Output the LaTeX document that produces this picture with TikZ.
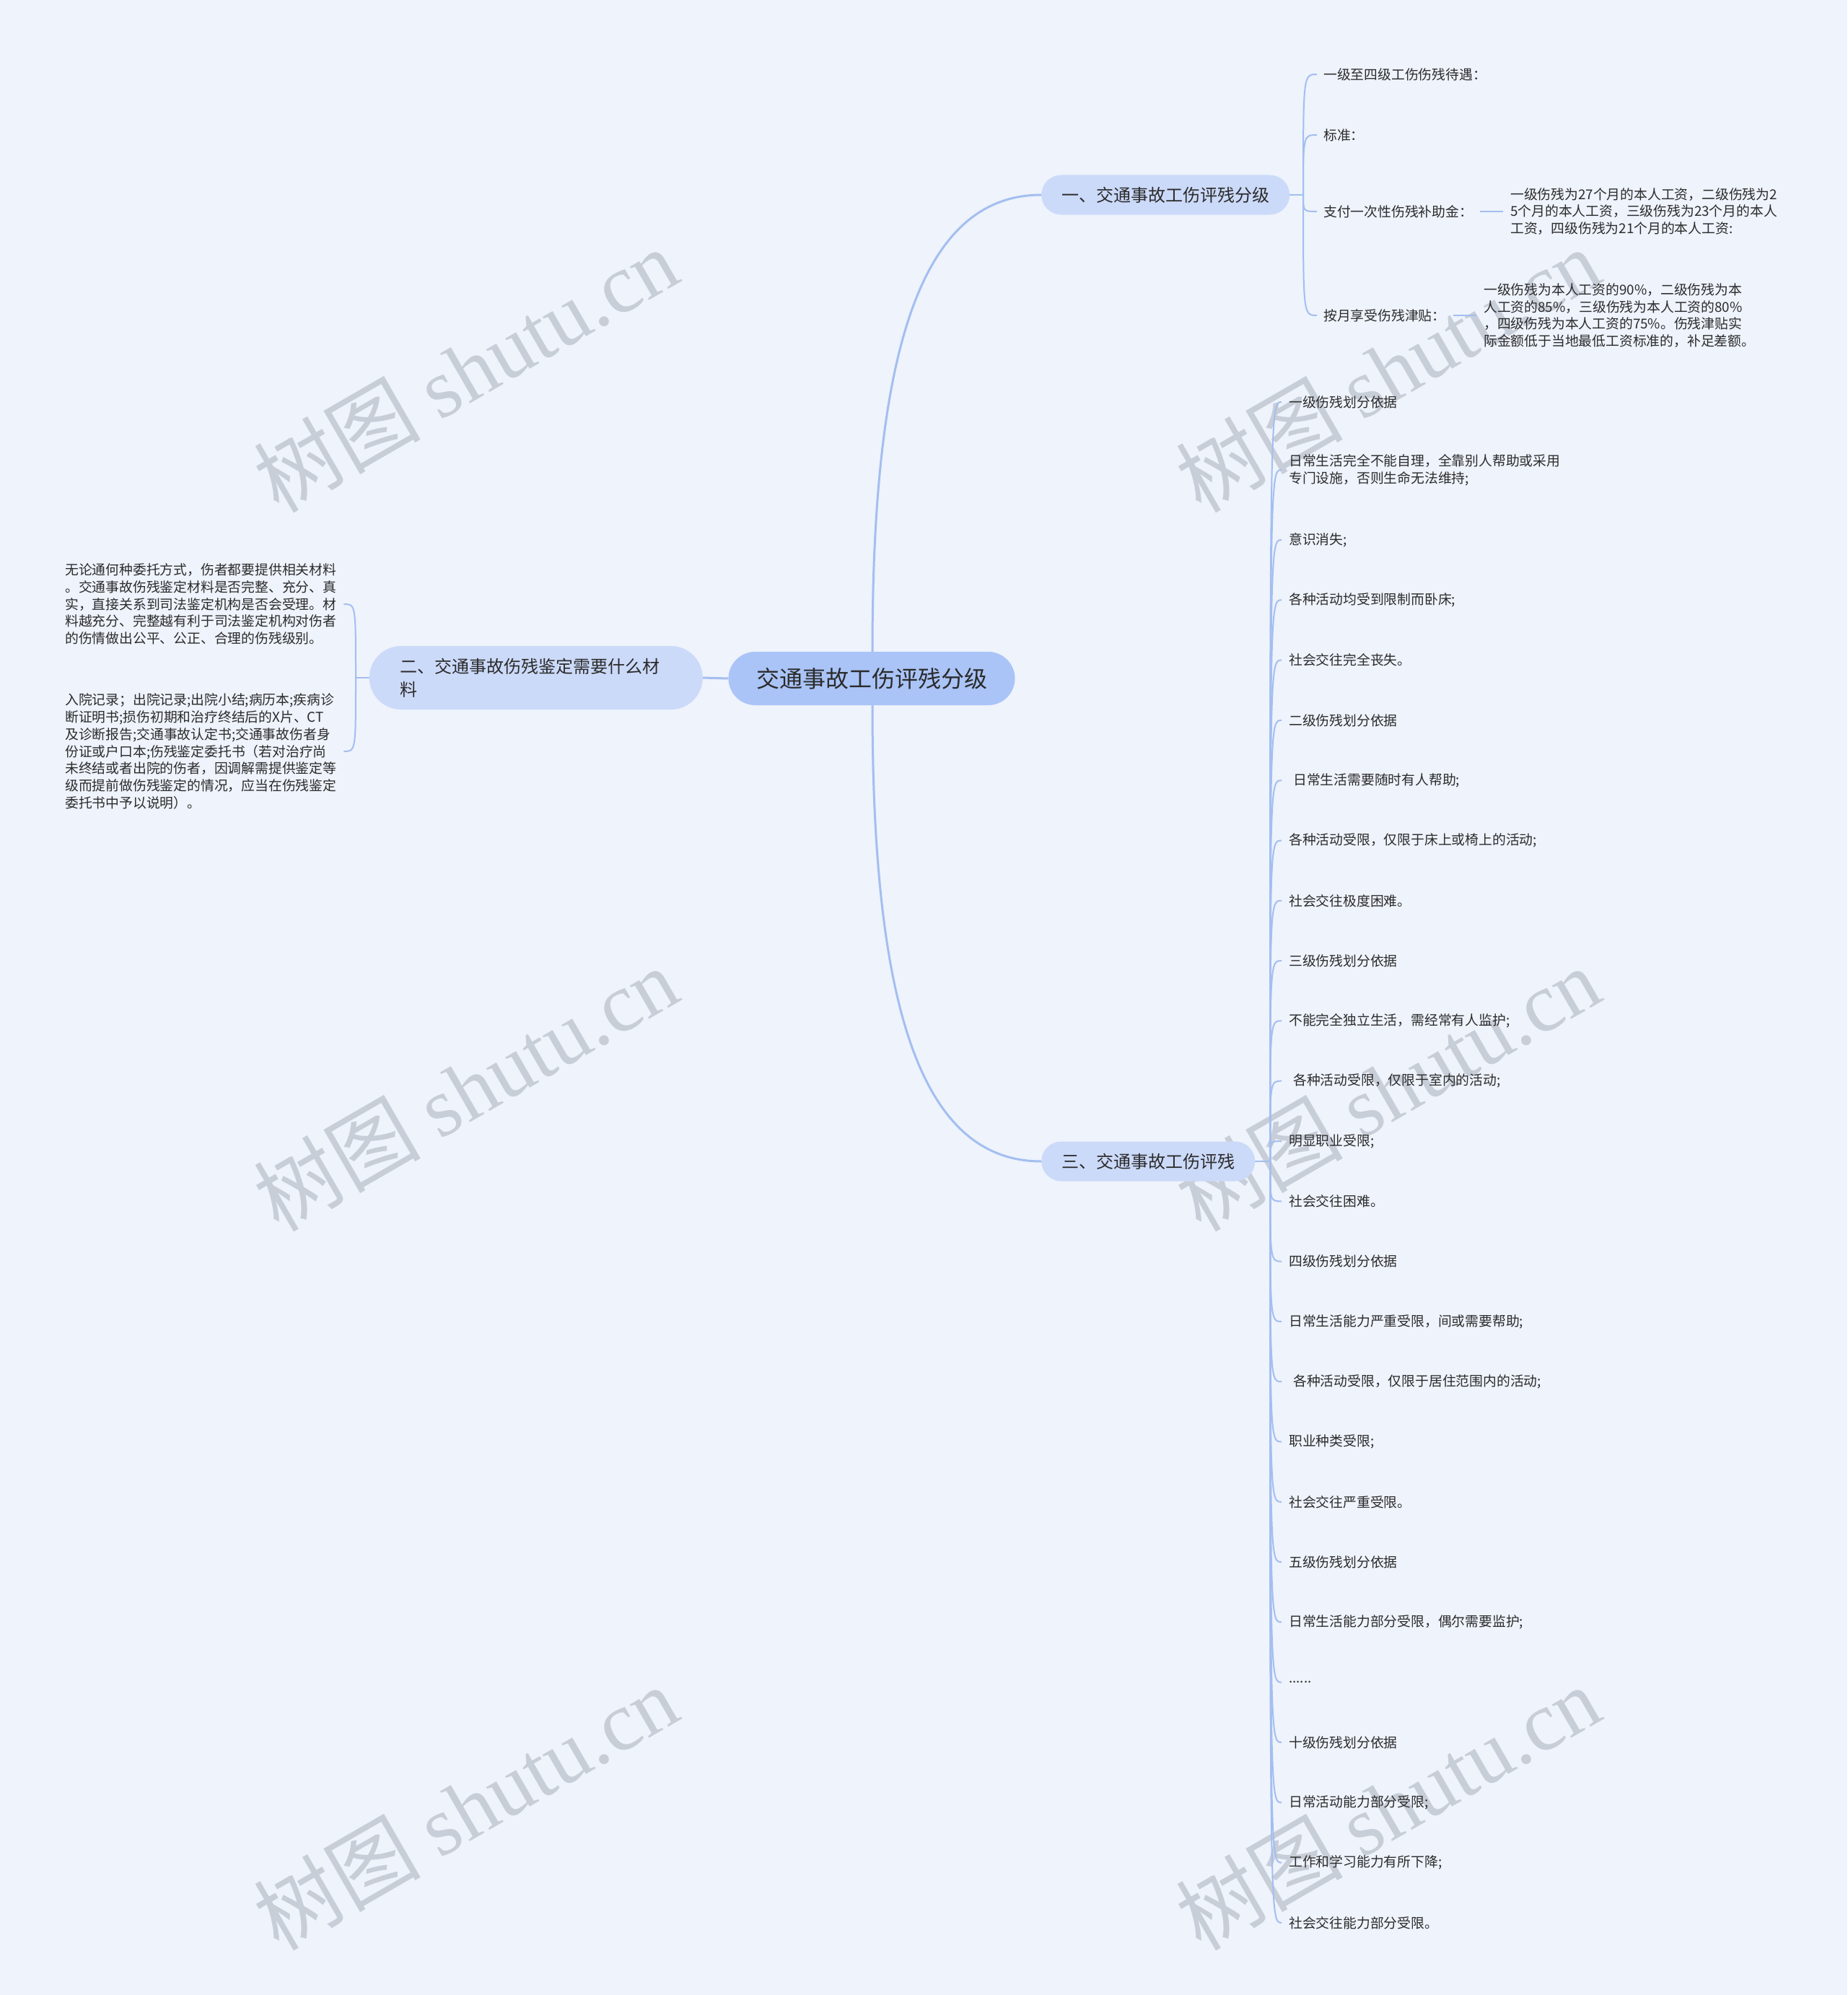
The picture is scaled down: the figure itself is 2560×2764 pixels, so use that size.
\documentclass[tikz,border=0pt]{standalone}
\usepackage{fontspec}
\setmainfont{Noto Sans CJK SC}
\newfontfamily\wmfont{Liberation Serif}
\usetikzlibrary{calc}
\definecolor{bgc}{HTML}{EEF3FC}
\definecolor{rootc}{HTML}{AAC4F7}
\definecolor{brc}{HTML}{CCDAF9}
\definecolor{linec}{HTML}{A4BEF0}
\definecolor{txtc}{HTML}{2B2B2B}
\definecolor{wmc}{HTML}{C8CED8}
\newcommand{\mysixdots}{......}
\begin{document}
\begin{tikzpicture}[x=1pt,y=-1pt,
  rootnode/.style={fill=rootc, rounded corners=37pt, minimum width=397pt, minimum height=74pt,
    inner sep=0pt, text=txtc, font=\fontsize{32}{38}\selectfont},
  branchnode/.style={fill=brc, rounded corners=27.5pt, minimum height=55pt, inner xsep=28pt,
    inner ysep=0pt, text=txtc, font=\fontsize{24}{30}\selectfont},
  leaf/.style={inner sep=0pt, text=txtc, align=left, font=\fontsize{18.8}{23.7}\selectfont},
  wm/.style={text=wmc, font=\fontsize{116}{130}\selectfont, inner sep=0pt},
  mainline/.style={draw=linec, line width=3pt},
  leafline/.style={draw=linec, line width=2pt}]
\fill[bgc] (0,0) rectangle (2560,2764);
\useasboundingbox (0,0) rectangle (2560,2764);

% watermarks
\foreach \wx [count=\a] in {645,1923}
  \foreach \wy [count=\b] in {512,1508,2504}
    \node[wm, rotate=30] (wm\a\b) at (\wx,\wy) {树图 {\wmfont shutu.cn}};

% root and branches
\node[rootnode] (root) at (1208,940) {交通事故工伤评残分级};
\node[branchnode, anchor=west] (b1) at (1443,270) {一、交通事故工伤评残分级};
\node[branchnode, anchor=west] (b3) at (1443,1609) {三、交通事故工伤评残};
\node[fill=brc, rounded corners=44pt, minimum height=88pt, text width=376pt, inner xsep=43pt,
  inner ysep=0pt, align=left, text=txtc, font=\fontsize{24}{32}\selectfont, anchor=east]
  (b2) at (974,939) {二、交通事故伤残鉴定需要什么材\\料};

\draw[mainline] (root.west) -- (b2.east);
\draw[mainline] ([xshift=1pt]root.north) .. controls ($([xshift=1pt]root.north)+(0,-400)$) and ($(b1.west)+(-173,0)$) .. (b1.west);
\draw[mainline] ([xshift=1pt]root.south) .. controls ($([xshift=1pt]root.south)+(0,400)$) and ($(b3.west)+(-173,0)$) .. (b3.west);

% branch 1 children
\coordinate (j1) at (1806,270);
\draw[leafline] (b1.east) -- (j1);
\node[leaf, anchor=west] (c11) at (1834,103) {一级至四级工伤伤残待遇：};
\node[leaf, anchor=west] (c12) at (1834,187) {标准：};
\node[leaf, anchor=west] (c13) at (1834,293) {支付一次性伤残补助金：};
\node[leaf, anchor=west] (c14) at (1834,437) {按月享受伤残津贴：};
\foreach \c in {c11,c12,c13,c14}
  \draw[leafline] (j1) .. controls (j1 |- \c.west) .. ([xshift=-9pt]\c.west);
\node[leaf, anchor=west] (s13) at (2093,293) {一级伤残为27个月的本人工资，二级伤残为2\\5个月的本人工资，三级伤残为23个月的本人\\工资，四级伤残为21个月的本人工资:};
\node[leaf, anchor=west] (s14) at (2056,437) {一级伤残为本人工资的90\%，二级伤残为本\\人工资的85\%，三级伤残为本人工资的80\%\\，四级伤残为本人工资的75\%。伤残津贴实\\际金额低于当地最低工资标准的，补足差额。};
\draw[leafline] ([xshift=10pt]c13.east) -- ([xshift=-10pt]s13.west);
\draw[leafline] ([xshift=10pt]c14.east) -- ([xshift=-10pt]s14.west);

% branch 2 children
\coordinate (j2) at (493,939);
\draw[leafline] (b2.west) -- (j2);
\node[leaf, anchor=west] (t1) at (90,837) {无论通何种委托方式，伤者都要提供相关材料\\。交通事故伤残鉴定材料是否完整、充分、真\\实，直接关系到司法鉴定机构是否会受理。材\\料越充分、完整越有利于司法鉴定机构对伤者\\的伤情做出公平、公正、合理的伤残级别。};
\node[leaf, anchor=west] (t2) at (90,1041) {入院记录；出院记录;出院小结;病历本;疾病诊\\断证明书;损伤初期和治疗终结后的X片、CT\\及诊断报告;交通事故认定书;交通事故伤者身\\份证或户口本;伤残鉴定委托书（若对治疗尚\\未终结或者出院的伤者，因调解需提供鉴定等\\级而提前做伤残鉴定的情况，应当在伤残鉴定\\委托书中予以说明）。};
\foreach \c in {t1,t2}
  \draw[leafline] (j2) .. controls (j2 |- \c.east) .. ([xshift=10pt]\c.east);

% branch 3 children
\coordinate (j3) at (1760,1609);
\draw[leafline] (b3.east) -- (j3);
\node[leaf, anchor=west] (n1) at (1786,557) {一级伤残划分依据};
\node[leaf, anchor=west] (n2) at (1786,651) {日常生活完全不能自理，全靠别人帮助或采用\\专门设施，否则生命无法维持;};
\foreach \t [count=\i from 3] in {
  {意识消失;},
  {各种活动均受到限制而卧床;},
  {社会交往完全丧失。},
  {二级伤残划分依据},
  {\hspace{6pt}日常生活需要随时有人帮助;},
  {各种活动受限，仅限于床上或椅上的活动;},
  {社会交往极度困难。},
  {三级伤残划分依据},
  {不能完全独立生活，需经常有人监护;},
  {\hspace{6pt}各种活动受限，仅限于室内的活动;},
  {明显职业受限;},
  {社会交往困难。},
  {四级伤残划分依据},
  {日常生活能力严重受限，间或需要帮助;},
  {\hspace{6pt}各种活动受限，仅限于居住范围内的活动;},
  {职业种类受限;},
  {社会交往严重受限。},
  {五级伤残划分依据},
  {日常生活能力部分受限，偶尔需要监护;},
  {\mysixdots},
  {十级伤残划分依据},
  {日常活动能力部分受限;},
  {工作和学习能力有所下降;},
  {社会交往能力部分受限。}}
  \node[leaf, anchor=west] (n\i) at (1786,{748+(\i-3)*83.3}) {\t};
\foreach \i in {1,...,26}
  \draw[leafline] (j3) .. controls (j3 |- n\i.west) .. ([xshift=-10pt]n\i.west);
\end{tikzpicture}
\end{document}
